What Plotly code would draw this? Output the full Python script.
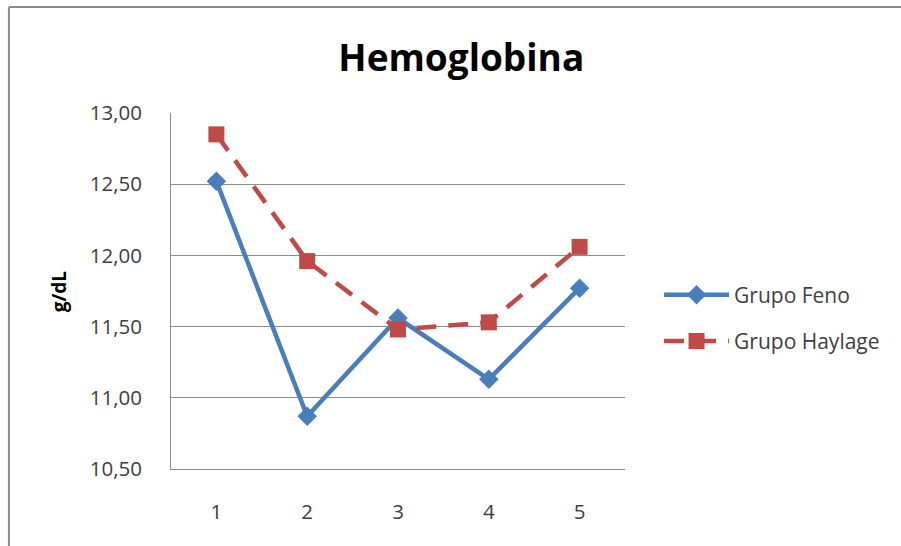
import plotly.graph_objects as go

categories = ["1", "2", "3", "4", "5"]
feno = [12.52, 10.87, 11.56, 11.13, 11.77]
haylage = [12.85, 11.96, 11.48, 11.53, 12.06]
y_ticks = [10.5, 11.0, 11.5, 12.0, 12.5, 13.0]

fig = go.Figure()
fig.add_trace(go.Scatter(
    x=categories, y=feno, name="Grupo Feno", mode="lines+markers",
    line=dict(color="#4A7EBB", width=4.5),
    marker=dict(symbol="diamond", size=15, color="#4A7EBB"),
    legendgroup="a",
))
fig.add_trace(go.Scatter(
    x=categories, y=haylage, name="Grupo Haylage", mode="lines+markers",
    line=dict(color="#BE4B48", width=4.5, dash="20px,12px"),
    marker=dict(symbol="square", size=16, color="#BE4B48"),
    legendgroup="b",
))

border = dict(color="#8c8c8c", width=2)
fig.update_layout(
    width=901, height=546,
    margin=dict(l=171, r=276, t=113, b=77),
    paper_bgcolor="white", plot_bgcolor="white",
    separators=",.",
    font=dict(family="Open Sans, DejaVu Sans, sans-serif", color="#404040", size=20.5),
    title=dict(text="<b>Hemoglobina</b>", x=0.512, xref="container", xanchor="center",
               y=0.894, yref="container", yanchor="middle",
               font=dict(size=37, color="black", family="Open Sans, sans-serif")),
    showlegend=True,
    legend=dict(x=1.075, xanchor="left", y=0.424, yanchor="middle",
                font=dict(size=21, color="#404040"),
                itemwidth=65, tracegroupgap=16, bgcolor="rgba(0,0,0,0)"),
    xaxis=dict(type="category", showgrid=False, showline=True, linecolor="#8c8c8c",
               linewidth=1, ticks="", ticklabelstandoff=24, range=[-0.5, 4.5],
               zeroline=False),
    yaxis=dict(range=[10.5, 13.0], tickvals=y_ticks, tickformat=".2f",
               showgrid=True, gridcolor="#8c8c8c", gridwidth=1,
               showline=True, linecolor="#8c8c8c", linewidth=1,
               ticks="", ticklabelstandoff=24, zeroline=False),
    annotations=[dict(text="<b>g/dL</b>", textangle=-90, xref="paper", yref="paper",
                      x=-0.246, y=0.5, xanchor="center", yanchor="middle",
                      showarrow=False, font=dict(size=19, color="black"))],
    shapes=[
        dict(type="line", xref="paper", yref="paper",
             x0=-0.357, x1=-0.357, y0=-0.3, y1=1.298, line=border, layer="below"),
        dict(type="line", xref="paper", yref="paper",
             x0=-0.357, x1=1.7, y0=1.298, y1=1.298, line=border, layer="below"),
    ],
)

fig.write_html("out.html")
